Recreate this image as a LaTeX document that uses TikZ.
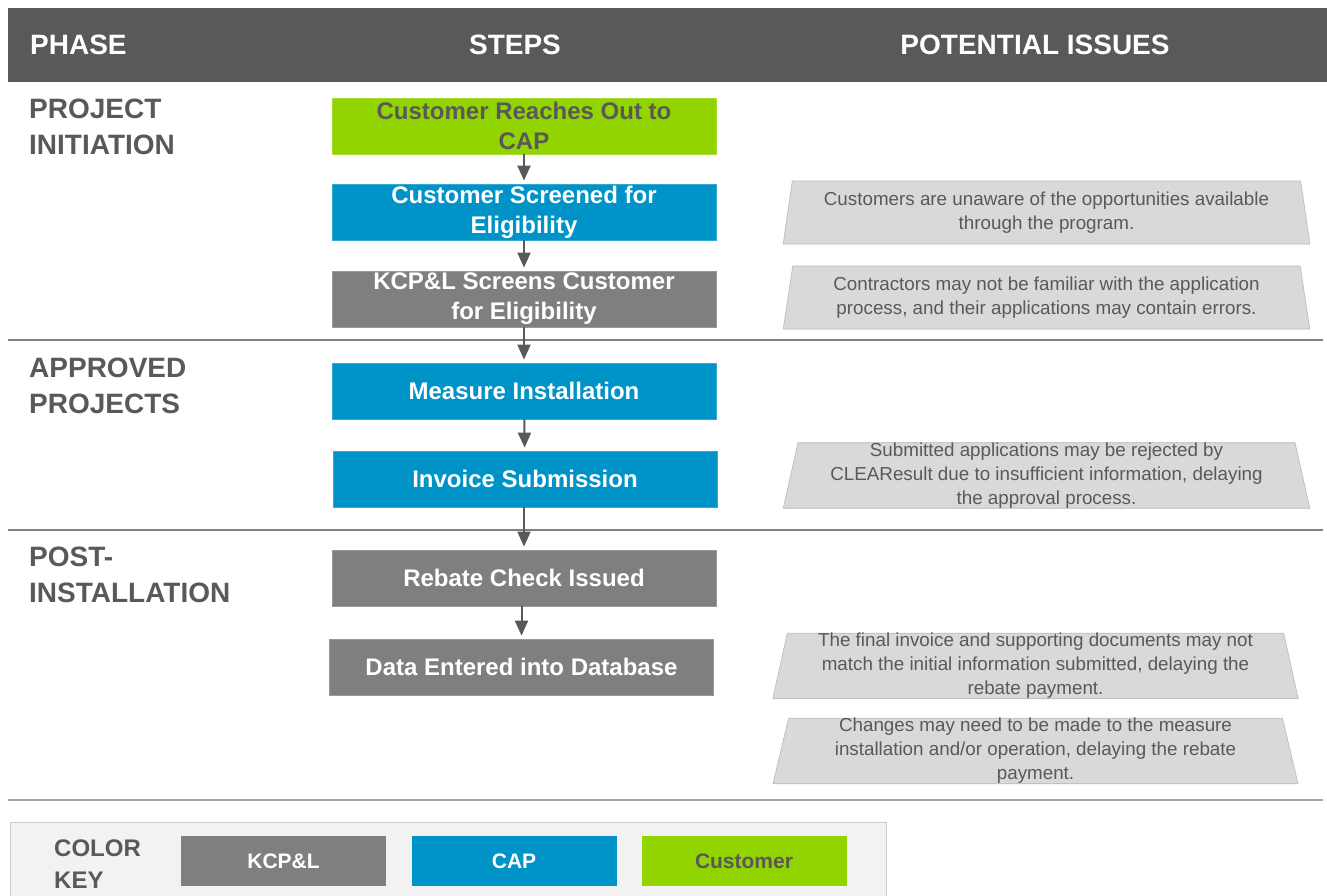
\documentclass[tikz,border=0pt]{standalone}
\usepackage{fontspec}
\setmainfont{Liberation Sans}
\usepackage{tikz}
\usetikzlibrary{arrows.meta,shapes.geometric}
\definecolor{head}{HTML}{58595B}
\definecolor{ink}{HTML}{595959}
\definecolor{rule}{HTML}{808080}
\definecolor{kcpgray}{HTML}{7F7F7F}
\definecolor{capblue}{HTML}{0093C8}
\definecolor{custgreen}{HTML}{92D400}
\definecolor{issuefill}{HTML}{D9D9D9}
\definecolor{keyfill}{HTML}{F2F2F2}
\tikzset{
  hdr/.style={text=white, font=\fontsize{28}{32}\selectfont\bfseries, inner sep=0pt},
  phase/.style={text=ink, font=\fontsize{28}{36}\selectfont\bfseries, align=left, inner sep=0pt, anchor=north west},
  stepbox/.style={minimum width=384pt, minimum height=56pt, inner sep=0pt, align=center,
    font=\fontsize{24}{30}\selectfont\bfseries, text=white, line width=0.8pt},
  kcpstep/.style={stepbox, fill=kcpgray, draw=kcpgray!80!white},
  capstep/.style={stepbox, fill=capblue, draw=capblue!80!white},
  custstep/.style={stepbox, fill=custgreen, draw=custgreen!80!white, text=ink},
  issue/.style={trapezium, trapezium left angle=79, trapezium right angle=79, trapezium stretches=true,
    minimum width=527pt, minimum height=63pt, inner sep=0pt, align=center,
    fill=issuefill, draw=issuefill!85!black, line width=0.6pt,
    text=ink, font=\fontsize{18.8}{24}\selectfont},
  flow/.style={draw=ink, line width=2pt, -{Triangle[width=13pt,length=15pt]}, shorten >=3pt},
  sep/.style={draw=rule, line width=2pt},
  keybox/.style={minimum width=205pt, minimum height=50pt, inner sep=0pt,
    font=\fontsize{21}{24}\selectfont\bfseries, text=white},
}

\begin{document}
\begin{tikzpicture}[x=1pt,y=-1pt]
  \useasboundingbox (0,0) rectangle (1327,895);
  % header
  \fill[head] (8,8) rectangle (1327,82);
  \node[hdr, anchor=west] (hphase) at (30,45) {PHASE};
  \node[hdr] (hsteps) at (515,45) {STEPS};
  \node[hdr] (hissues) at (1035,45) {POTENTIAL ISSUES};
  % phases
  \node[phase] (pinit) at (29,99) {PROJECT\\INITIATION};
  \node[phase] (pappr) at (29,358) {APPROVED\\PROJECTS};
  \node[phase] (ppost) at (29,547) {POST-\\INSTALLATION};
  \draw[sep] (8,340) -- (1323,340);
  \draw[sep] (8,530) -- (1323,530);
  \draw[sep, draw=rule!70!white] (8,800) -- (1323,800);
  % steps
  \node[custstep] (reach) at (524,126) {Customer Reaches Out to\\CAP};
  \node[capstep] (capscreen) at (524,212) {Customer Screened for\\Eligibility};
  \node[kcpstep] (kcpscreen) at (524,299) {KCP\&L Screens Customer\\for Eligibility};
  \node[capstep] (install) at (524,391) {Measure Installation};
  \node[capstep] (invoice) at (525,479) {Invoice Submission};
  \node[kcpstep] (rebate) at (524,578) {Rebate Check Issued};
  \node[kcpstep] (database) at (521.5,667) {Data Entered into Database};
  \draw[flow] (reach) -- (capscreen);
  \draw[flow] (capscreen) -- (kcpscreen);
  \draw[flow] (kcpscreen) -- (install);
  \draw[flow] (install) -- (invoice);
  \draw[flow] (invoice.south -| rebate.north) -- (rebate.north);
  \draw[flow] (rebate.south -| database.north) -- (database.north);
  % issues
  \node[issue] (aware) at (1046.5,212.5) {Customers are unaware of the opportunities available\\through the program.};
  \node[issue] (contract) at (1046.5,297.5) {Contractors may not be familiar with the application\\process, and their applications may contain errors.};
  \node[issue] (reject) at (1046.5,475.5) {Submitted applications may be rejected by\\CLEAResult due to insufficient information, delaying\\the approval process.};
  \node[issue] (mismatch) at (1035.5,666) {The final invoice and supporting documents may not\\match the initial information submitted, delaying the\\rebate payment.};
  \node[issue] (changes) at (1035.5,751) {Changes may need to be made to the measure\\installation and/or operation, delaying the rebate\\payment.};
  % color key
  \filldraw[fill=keyfill, draw=rule!40!white, line width=1pt] (10,822) rectangle (886,897);
  \node[phase, font=\fontsize{24}{32}\selectfont\bfseries, anchor=west] (keylab) at (54,864) {COLOR\\KEY};
  \node[keybox, fill=kcpgray] (keykcp) at (283.5,861) {KCP\&L};
  \node[keybox, fill=capblue] (keycap) at (514,861) {CAP};
  \node[keybox, fill=custgreen, text=ink] (keycust) at (744,861) {Customer};
\end{tikzpicture}
\end{document}
